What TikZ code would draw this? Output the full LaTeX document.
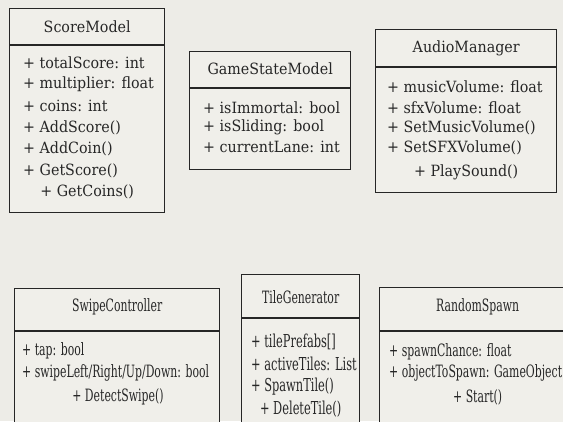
\documentclass[tikz,border=0pt]{standalone}
\usepackage{fontspec}
\setmainfont{DejaVu Serif}[FakeStretch=0.92]
\newfontfamily\narrowfont{DejaVu Serif}[FakeStretch=0.64]
\usetikzlibrary{positioning}
\definecolor{paper}{HTML}{EDECE7}
\definecolor{boxfill}{HTML}{F0EFEA}
\definecolor{ink}{HTML}{262626}

\begin{document}
\begin{tikzpicture}[x=1pt,y=-1pt]
  \tikzset{
  classbox/.style = {draw=ink, fill=boxfill, line width=1.4pt, rectangle,
    anchor=north west, inner sep=0pt},% cadre de classe
  classtitle/.style = {text=ink, font=\fontsize{15.5}{17}\selectfont},% nom de classe
  classline/.style = {text=ink, anchor=west, inner sep=0pt,
    font=\fontsize{15.5}{17}\selectfont},% attribut ou methode
  lowtitle/.style = {classtitle, font=\narrowfont\fontsize{17}{19}\selectfont},
  lowline/.style = {classline, font=\narrowfont\fontsize{17}{19}\selectfont},
  tileline/.style = {classline, font=\narrowfont\fontsize{17.8}{20}\selectfont}
}
\useasboundingbox (0,0) rectangle (563,421);
\fill[paper] (0,0) rectangle (563,421);
\clip (0,0) rectangle (563,421);

% ScoreModel
\node [classbox, minimum width=155, minimum height=204] (score) at (9,8) {};
\node [classtitle] (score-title) at (score.north |- 0,27) {ScoreModel};
\draw [ink, line width=1.4pt] (score.west |- 0,45) -- (score.east |- 0,45);
\foreach \t [count=\i] in {+ totalScore: int, + multiplier: float, + coins: int,
  + AddScore(), + AddCoin(), + GetScore()}
  \node [classline] (score-\i) at (23, 63+21.5*\i-21.5) {\t};
\node [classline, anchor=center] (score-7) at (score.center |- 0,192) {+ GetCoins()};

% GameStateModel
\node [classbox, minimum width=161, minimum height=118] (state) at (189,51) {};
\node [classtitle] (state-title) at (state.north |- 0,69) {GameStateModel};
\draw [ink, line width=1.4pt] (state.west |- 0,88) -- (state.east |- 0,88);
\foreach \t [count=\i] in {+ isImmortal: bool, + isSliding: bool, + currentLane: int}
  \node [classline] (state-\i) at (203, 108+19.5*\i-19.5) {\t};

% AudioManager
\node [classbox, minimum width=181, minimum height=163] (audio) at (375,29) {};
\node [classtitle] (audio-title) at (audio.north |- 0,48) {AudioManager};
\draw [ink, line width=1.4pt] (audio.west |- 0,67) -- (audio.east |- 0,67);
\foreach \t [count=\i] in {+ musicVolume: float, + sfxVolume: float,
  + SetMusicVolume(), + SetSFXVolume()}
  \node [classline] (audio-\i) at (387, 87+20.3*\i-20.3) {\t};
\node [classline, anchor=center] (audio-5) at (audio.center |- 0,172) {+ PlaySound()};

% SwipeController
\node [classbox, minimum width=205, minimum height=160] (swipe) at (14,288) {};
\node [lowtitle] (swipe-title) at (swipe.north |- 0,307) {SwipeController};
\draw [ink, line width=1.4pt] (swipe.west |- 0,331) -- (swipe.east |- 0,331);
\foreach \t [count=\i] in {+ tap: bool, + swipeLeft/Right/Up/Down: bool}
  \node [lowline] (swipe-\i) at (22, 351+22*\i-22) {\t};
\node [lowline, anchor=center] (swipe-3) at (118,397) {+ DetectSwipe()};

% TileGenerator
\node [classbox, minimum width=118, minimum height=170] (tile) at (241,274) {};
\node [lowtitle] (tile-title) at (tile.north |- 0,297) {TileGenerator};
\draw [ink, line width=1.4pt] (tile.west |- 0,318) -- (tile.east |- 0,318);
\foreach \t [count=\i] in {+ tilePrefabs[], + activeTiles: List, + SpawnTile()}
  \node [tileline] (tile-\i) at (251, 342+22.3*\i-22.3) {\t};
\node [tileline, anchor=center] (tile-4) at (tile.center |- 0,409) {+ DeleteTile()};

% RandomSpawn
\node [classbox, minimum width=196, minimum height=160] (spawn) at (379,287) {};
\node [lowtitle] (spawn-title) at (spawn.north |- 0,307) {RandomSpawn};
\draw [ink, line width=1.4pt] (spawn.west |- 0,331) -- (spawn.east |- 0,331);
\foreach \t [count=\i] in {+ spawnChance: float, + objectToSpawn: GameObject}
  \node [lowline] (spawn-\i) at (389, 352+21*\i-21) {\t};
\node [lowline, anchor=center] (spawn-3) at (spawn.center |- 0,397) {+ Start()};
\end{tikzpicture}
\end{document}
